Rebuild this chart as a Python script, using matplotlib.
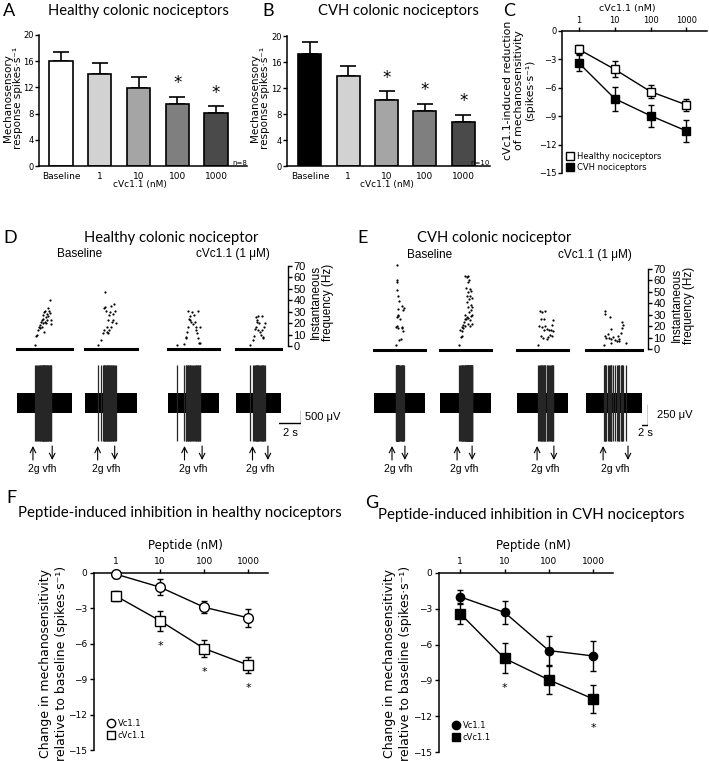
import matplotlib
matplotlib.use('Agg')
import matplotlib.pyplot as plt
from matplotlib.lines import Line2D
import numpy as np

# ---- data: bar panels A / B ----
bar_labels = ['Baseline', '1', '10', '100', '1000']
healthy_mean = [16.0, 14.0, 11.9, 9.5, 8.1]
healthy_sem = [1.4, 1.8, 1.7, 1.1, 1.0]
healthy_sig = [False, False, False, True, True]
cvh_mean = [17.3, 13.9, 10.1, 8.4, 6.8]
cvh_sem = [1.8, 1.5, 1.4, 1.2, 1.1]
cvh_sig = [False, False, True, True, True]

# ---- data: dose-response panels C / F / G ----
conc = [1, 10, 100, 1000]
f_vc = [-0.1, -1.2, -2.9, -3.8]
f_vc_err = [0.35, 0.67, 0.5, 0.74]
f_cvc = [-1.95, -4.05, -6.4, -7.8]
f_cvc_err = [0.45, 0.85, 0.7, 0.65]
f_sig = [False, True, True, True]
g_vc = [-2.0, -3.3, -6.5, -6.95]
g_vc_err = [0.6, 0.94, 1.2, 1.25]
g_cvc = [-3.4, -7.15, -8.95, -10.55]
g_cvc_err = [0.87, 1.26, 1.15, 1.16]
g_sig = [False, True, False, True]

# ---- data: example recordings D / E (spike times in s, inst. frequency in Hz) ----
healthy_spike_t = [
    [1.61, 1.70, 1.82, 1.94, 2.00, 2.06, 2.09, 2.18, 2.24, 2.27, 2.33, 2.36, 2.39, 2.42,
     2.48, 2.55, 2.58, 2.61, 2.67, 2.70, 2.76, 2.79, 2.85, 2.91, 2.97, 2.97, 3.06, 3.12],
    [1.21, 1.45, 1.61, 1.70, 1.73, 1.82, 1.85, 1.91, 1.97, 2.03, 2.09, 2.12, 2.18, 2.21,
     2.27, 2.33, 2.39, 2.42, 2.52, 2.58, 2.67, 2.73, 2.82],
    [0.85, 1.45, 1.61, 1.67, 1.76, 1.82, 1.85, 1.88, 1.97, 2.03, 2.12, 2.18, 2.27, 2.33,
     2.42, 2.52, 2.58, 2.64, 2.73, 2.76, 2.82, 2.88, 2.94],
    [1.27, 1.52, 1.64, 1.73, 1.82, 1.82, 1.88, 1.94, 1.97, 2.03, 2.12, 2.18, 2.24, 2.33,
     2.33, 2.42, 2.48, 2.55, 2.64],
]
healthy_freq = [
    [0.5, 9, 10, 14, 17, 16, 18, 21, 17, 23, 24, 20, 27, 12.5, 30, 31, 21, 25, 20, 28,
     23, 33, 26, 31, 29, 40, 19, 23],
    [0.5, 5, 11, 14, 33, 34, 47, 31, 12.5, 17, 11, 23, 27, 14, 30, 35, 17, 21, 23, 28,
     37, 31, 20],
    [0.5, 1.5, 7, 8, 12.5, 17, 31, 24, 23, 26, 21, 30, 19, 27, 21, 17, 14, 11, 31, 7,
     3, 17, 3],
    [0.5, 5, 9, 15, 17, 25, 21, 23, 14, 26, 20, 12.5, 10, 26, 14, 7, 8, 17, 20],
]
cvh_spike_t = [
    [7.2, 7.4, 7.6, 7.6, 7.6, 7.7, 7.7, 7.8, 7.9, 7.9, 8.1, 8.1, 8.1, 8.3, 8.4, 8.7,
     9.0, 9.2, 9.4, 9.4, 9.8, 9.8, 10.0],
    [6.4, 6.7, 7.0, 7.2, 7.2, 7.4, 7.8, 7.8, 8.1, 8.3, 8.3, 8.3, 8.7, 8.7, 8.9, 8.9,
     8.9, 9.0, 9.2, 9.2, 9.2, 9.4, 9.4, 9.4, 9.7, 9.7, 9.8, 9.9, 10.0, 10.0, 10.0, 10.2,
     10.3, 10.3, 10.3, 10.5, 10.5, 10.5, 10.8, 8.3],
    [7.1, 7.4, 7.7, 8.0, 8.0, 8.4, 8.4, 8.8, 9.1, 9.1, 9.3, 9.3, 9.9, 9.9, 10.2, 10.7,
     11.0, 11.4, 11.6, 11.6, 12.1, 12.1],
    [6.1, 6.3, 6.3, 6.4, 6.8, 7.4, 7.7, 8.0, 8.3, 8.3, 8.4, 9.1, 9.7, 10.2, 10.6, 11.0,
     11.1, 11.7, 11.9, 12.1, 12.4, 13.2],
]
cvh_freq = [
    [2, 18, 74, 60, 51, 58, 19, 27, 46, 29, 34, 28, 17, 41, 6, 25, 7, 18, 37, 17, 33, 14, 35],
    [2, 15, 9, 14, 18, 10, 17, 20, 22, 19, 25, 29, 25, 53, 27, 46, 63, 40, 36, 58,
     21, 26, 49, 64, 31, 60, 43, 46, 24, 52, 19, 33, 28, 38, 50, 44, 36, 21, 29, 64],
    [2, 19, 32, 25, 10, 31, 18, 8, 25, 15, 32, 19, 16.6, 7, 9, 15, 11, 15, 20, 10, 24, 14],
    [2, 32, 10, 30, 8, 12, 8, 27, 16, 7, 4, 9, 6, 5, 10, 5, 7, 13, 22, 17, 20, 4],
]
healthy_stim_on = [1.45, 1.15, 1.5, 1.5]
healthy_stim_off = [3.2, 2.7, 3.1, 2.9]
cvh_stim_on = [6.0, 5.7, 6.7, 5.7]
cvh_stim_off = [10.3, 10.7, 12.3, 14.0]
healthy_noise_uv, healthy_burst_uv = 400, 1580
cvh_noise_uv, cvh_burst_uv = 125, 475

W, H = 709, 761
plt.rcParams['font.family'] = ['DejaVu Sans']
fig = plt.figure(figsize=(W / 100, H / 100), dpi=100)

TITLE_FONT = 'Lato'
ARIAL = 'Liberation Sans'


def add_ax(left, top, right, bottom):
    return fig.add_axes([left / W, 1 - bottom / H, (right - left) / W, (bottom - top) / H])


def ftext(x, y, s, **kw):
    return fig.text(x / W, 1 - y / H, s, **kw)


def bar_panel(ax, means, sems, sig, colors, n_text):
    x = np.arange(len(means))
    ax.bar(x, means, width=0.6, color=colors, edgecolor='k', linewidth=1.2, zorder=2)
    ax.errorbar(x, means, yerr=[np.zeros(len(means)), sems], fmt='none', ecolor='k',
                elinewidth=1.2, capsize=6, capthick=1.2, zorder=1)
    for i in range(len(means)):
        if sig[i]:
            ax.annotate('*', xy=(i, means[i] + sems[i]), xytext=(0, 6), textcoords='offset points',
                        ha='center', va='baseline', fontsize=12)
    ax.set_xlim(-0.57, 4.8)
    ax.set_ylim(0, 20)
    ax.set_yticks([0, 4, 8, 12, 16, 20])
    ax.set_xticks(x)
    ax.set_xticklabels(bar_labels, fontsize=6.5)
    ax.tick_params(axis='x', length=0, pad=4)
    ax.tick_params(axis='y', labelsize=6, length=3, width=1, pad=1)
    for s in ['top', 'right']:
        ax.spines[s].set_visible(False)
    for s in ['left', 'bottom']:
        ax.spines[s].set_linewidth(1.1)
    ax.text(1.0, 0.0, n_text, transform=ax.transAxes, fontsize=5, ha='right', va='bottom')


def dose_axes(ax, xlo, xhi):
    ax.set_xscale('log')
    ax.set_xlim(xlo, xhi)
    ax.set_ylim(-15, 0)
    ax.set_yticks([0, -3, -6, -9, -12, -15])
    ax.set_xticks(conc)
    ax.set_xticklabels(['1', '10', '100', '1000'])
    ax.minorticks_off()
    ax.xaxis.tick_top()
    ax.spines['bottom'].set_visible(False)
    ax.spines['right'].set_visible(False)
    ax.spines['top'].set_linewidth(1.1)
    ax.spines['left'].set_linewidth(1.1)
    ax.tick_params(labelsize=6.5, length=3, width=1, pad=2)
    ax.patch.set_alpha(0)


def dose_series(ax, y, err, marker, face, ms, capsize=2.4):
    ax.errorbar(conc, y, yerr=err, fmt='none', ecolor='k', elinewidth=1, capsize=capsize,
                capthick=1, zorder=2)
    ax.plot(conc, y, color='k', lw=1, marker=marker, ms=ms, mfc=face, mec='k', mew=1, zorder=3,
            clip_on=False)


def stars_below(ax, y, err, sig):
    for i in range(len(y)):
        if sig[i]:
            ax.annotate('*', xy=(conc[i], y[i] - err[i]), xytext=(0, -13), textcoords='offset points',
                        ha='center', va='baseline', fontsize=8)


# ---------------- A ----------------
ftext(3, 11, 'A', fontsize=13, family=TITLE_FONT, va='center')
ftext(138, 11, 'Healthy colonic nociceptors', fontsize=10.6, family=TITLE_FONT, ha='center', va='center')
axA = add_ax(39, 35, 247, 166)
bar_panel(axA, healthy_mean, healthy_sem, healthy_sig,
          ['white', '#d2d2d2', '#a5a5a5', '#7f7f7f', '#4a4a4a'], 'n=8')
ftext(13, 98, 'Mechanosensory\nresponse spikes·s⁻¹', rotation=90, fontsize=7.5, ha='center',
      va='center', linespacing=0.95)
ftext(140, 184, 'cVc1.1 (nM)', fontsize=6.5, ha='center', va='center')

# ---------------- B ----------------
ftext(262, 11, 'B', fontsize=13, family=TITLE_FONT, va='center')
ftext(398, 11, 'CVH colonic nociceptors', fontsize=10.6, family=TITLE_FONT, ha='center', va='center')
axB = add_ax(287, 36, 490, 166)
bar_panel(axB, cvh_mean, cvh_sem, cvh_sig,
          ['black', '#d2d2d2', '#a5a5a5', '#7f7f7f', '#4a4a4a'], 'n=10')
axB.set_xlim(-0.6, 4.7)
ftext(260, 98, 'Mechanosensory\nresponse spikes·s⁻¹', rotation=90, fontsize=7.5, ha='center',
      va='center', linespacing=0.95)
ftext(387, 184, 'cVc1.1 (nM)', fontsize=6.5, ha='center', va='center')

# ---------------- C ----------------
ftext(503, 11, 'C', fontsize=13, family=TITLE_FONT, va='center')
axC = add_ax(562, 31, 707, 173)
dose_axes(axC, 0.334, 3800)
axC.tick_params(labelsize=6, pad=1)
dose_series(axC, f_cvc, f_cvc_err, 's', 'white', 5.5, capsize=2.2)
dose_series(axC, g_cvc, g_cvc_err, 's', 'black', 5.5, capsize=2.2)
ftext(627, 9, 'cVc1.1 (nM)', fontsize=6.8, ha='center', va='center')
ftext(519, 90, 'cVc1.1-induced reduction\nof mechanosensitivity\n(spikes·s⁻¹)', rotation=90,
      fontsize=7.8, ha='center', va='center', linespacing=1.1)
c_handles = [Line2D([], [], ls='none', marker='s', ms=5.5, mfc='white', mec='k'),
             Line2D([], [], ls='none', marker='s', ms=5.5, mfc='black', mec='k')]
axC.legend(c_handles, ['Healthy nociceptors', 'CVH nociceptors'], loc='lower left',
           bbox_to_anchor=(0.0, -0.03), frameon=False, fontsize=6, handlelength=0.8,
           handletextpad=0.4, labelspacing=0.25, borderaxespad=0.2)


# ---------------- D / E recordings ----------------
def recording_panel(lefts, rights, px_per_s, spikes, freqs, on, off, noise, burst, vmax,
                    top70, zero_y, bar_y):
    pp_hz = (zero_y - top70) / 70.0
    for k in range(len(lefts)):
        dur = (rights[k] - lefts[k]) / px_per_s
        axd = add_ax(lefts[k], top70, rights[k], zero_y + 5)
        axd.set_xlim(0, dur)
        axd.set_ylim(-5 / pp_hz, 70)
        axd.plot(spikes[k], freqs[k], 'o', color='k', ms=1.6, mew=0, clip_on=False)
        axd.axhline(-(bar_y - zero_y) / pp_hz, color='k', lw=2.2, clip_on=False)
        axd.axis('off')

        axt = add_ax(lefts[k], 360, rights[k], 446)
        axt.set_xlim(0, dur)
        axt.set_ylim(-vmax, vmax)
        axt.fill_between([0, dur], -noise, noise, color='k', lw=0)
        axt.vlines(spikes[k], -burst, burst, color='0.15', lw=0.9)
        axt.axis('off')
        y_top, y_bot = 1 - 446 / H, 1 - 460 / H
        for t, up in [(on[k], True), (off[k], False)]:
            tip, tail = (y_top, y_bot) if up else (y_bot, y_top)
            axt.annotate('', xy=(t, tip), xytext=(t, tail), xycoords=('data', 'figure fraction'),
                         textcoords=('data', 'figure fraction'),
                         arrowprops=dict(arrowstyle='->', lw=0.8, color='k', shrinkA=0, shrinkB=0))
        mid = (on[k] + off[k]) / 2
        axt.annotate('2g vfh', xy=(mid, 1 - 469 / H), xycoords=('data', 'figure fraction'),
                     ha='center', va='center', fontsize=7.5, family=ARIAL)


def freq_axis(right, top70, zero_y, label_x):
    ax = add_ax(right - 15, top70, right, zero_y)
    ax.set_ylim(0, 70)
    ax.set_yticks(range(0, 71, 10))
    ax.yaxis.tick_right()
    ax.set_xticks([])
    for s in ['top', 'bottom', 'left']:
        ax.spines[s].set_visible(False)
    ax.spines['right'].set_linewidth(1)
    ax.tick_params(axis='y', labelsize=8, length=3, width=1, pad=1)
    for lab in ax.get_yticklabels():
        lab.set_family(ARIAL)
    ax.patch.set_alpha(0)
    ftext(label_x, (top70 + zero_y) / 2 - 4, 'Instantaneous\nfrequency (Hz)', rotation=90,
          fontsize=8.5, family=ARIAL, ha='center', va='center', linespacing=0.95)


ftext(3, 238, 'D', fontsize=13, family=TITLE_FONT, va='center')
ftext(171, 238, 'Healthy colonic nociceptor', fontsize=10.6, family=TITLE_FONT, ha='center', va='center')
ftext(80, 254, 'Baseline', fontsize=8.5, family=ARIAL, ha='center', va='center')
ftext(233, 254, 'cVc1.1 (1 μM)', fontsize=8.5, family=ARIAL, ha='center', va='center')
recording_panel([17, 85, 168, 236], [72, 137, 219, 281], 11.0, healthy_spike_t, healthy_freq,
                healthy_stim_on, healthy_stim_off, healthy_noise_uv, healthy_burst_uv, 1790,
                266, 346, 349)
freq_axis(288, 266, 346, 322)
axs = add_ax(279, 360, 301, 446)
axs.set_xlim(0, 2)
axs.set_ylim(-1790, 1790)
axs.plot([0, 2, 2], [-830, -830, -330], color='k', lw=1)
axs.axis('off')
ftext(305, 417, '500 μV', fontsize=8, family=ARIAL, va='center')
ftext(290, 433, '2 s', fontsize=8, family=ARIAL, ha='center', va='center')

ftext(357, 238, 'E', fontsize=13, family=TITLE_FONT, va='center')
ftext(494, 238, 'CVH colonic nociceptor', fontsize=10.6, family=TITLE_FONT, ha='center', va='center')
ftext(430, 255, 'Baseline', fontsize=8.5, family=ARIAL, ha='center', va='center')
ftext(595, 255, 'cVc1.1 (1 μM)', fontsize=8.5, family=ARIAL, ha='center', va='center')
recording_panel([374, 440, 517, 586], [425, 491, 568, 642], 3.0, cvh_spike_t, cvh_freq,
                cvh_stim_on, cvh_stim_off, cvh_noise_uv, cvh_burst_uv, 537,
                269, 347, 350)
freq_axis(648, 269, 349, 683)
axs2 = add_ax(642, 360, 648, 446)
axs2.set_xlim(0, 2)
axs2.set_ylim(-537, 537)
axs2.plot([0, 2, 2], [-275, -275, -25], color='k', lw=1)
axs2.axis('off')
ftext(657, 415, '250 μV', fontsize=8, family=ARIAL, va='center')
ftext(645, 433, '2 s', fontsize=8, family=ARIAL, ha='center', va='center')

# ---------------- F ----------------
ftext(6, 498, 'F', fontsize=13, family=TITLE_FONT, va='center')
ftext(180, 513, 'Peptide-induced inhibition in healthy nociceptors', fontsize=10.8, family=TITLE_FONT,
      ha='center', va='center')
axF = add_ax(94, 573, 268, 750)
dose_axes(axF, 0.316, 2818)
dose_series(axF, f_vc, f_vc_err, 'o', 'white', 7)
dose_series(axF, f_cvc, f_cvc_err, 's', 'white', 7)
stars_below(axF, f_cvc, f_cvc_err, f_sig)
ftext(185, 545, 'Peptide (nM)', fontsize=8.5, ha='center', va='center')
ftext(54, 663, 'Change in mechanosensitivity\nrelative to baseline (spikes·s⁻¹)', rotation=90,
      fontsize=9, ha='center', va='center', linespacing=1.3)
f_handles = [Line2D([], [], ls='none', marker='o', ms=6, mfc='white', mec='k'),
             Line2D([], [], ls='none', marker='s', ms=6, mfc='white', mec='k')]
axF.legend(f_handles, ['Vc1.1', 'cVc1.1'], loc='lower left', bbox_to_anchor=(0.05, 0.03),
           frameon=False, fontsize=6, handlelength=0.8, handletextpad=0.4, labelspacing=0.3,
           borderaxespad=0.2)

# ---------------- G ----------------
ftext(365, 503, 'G', fontsize=13, family=TITLE_FONT, va='center')
ftext(531, 515, 'Peptide-induced inhibition in CVH nociceptors', fontsize=10.8, family=TITLE_FONT,
      ha='center', va='center')
axG = add_ax(439, 573, 613, 752)
dose_axes(axG, 0.331, 2818)
dose_series(axG, g_vc, g_vc_err, 'o', 'black', 6)
dose_series(axG, g_cvc, g_cvc_err, 's', 'black', 7)
stars_below(axG, g_cvc, g_cvc_err, g_sig)
ftext(533, 545, 'Peptide (nM)', fontsize=8.5, ha='center', va='center')
ftext(397, 663, 'Change in mechanosensitivity\nrelative to baseline (spikes·s⁻¹)', rotation=90,
      fontsize=9, ha='center', va='center', linespacing=1.3)
g_handles = [Line2D([], [], ls='none', marker='o', ms=6, mfc='black', mec='k'),
             Line2D([], [], ls='none', marker='s', ms=6, mfc='black', mec='k')]
axG.legend(g_handles, ['Vc1.1', 'cVc1.1'], loc='lower left', bbox_to_anchor=(0.05, 0.03),
           frameon=False, fontsize=6, handlelength=0.8, handletextpad=0.4, labelspacing=0.3,
           borderaxespad=0.2)

fig.savefig('out.png', dpi=100)
